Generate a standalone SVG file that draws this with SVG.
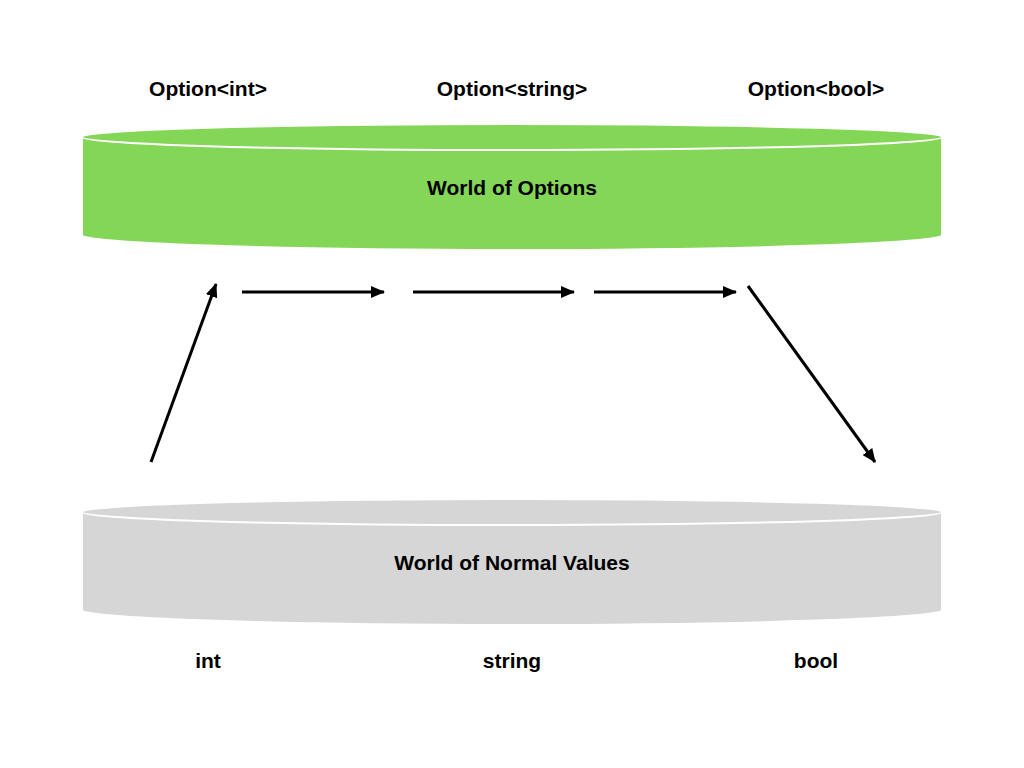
<svg xmlns="http://www.w3.org/2000/svg" width="1024" height="768" viewBox="0 0 1024 768">
<defs>
<style>
text{font-family:"Liberation Sans",Arial,sans-serif;font-weight:bold;font-size:21px;fill:#000;text-anchor:middle}
.conn line{stroke:#000;stroke-width:3;fill:none}
.cyl{stroke:#fff;stroke-width:2}
</style>
<marker id="ah" viewBox="0 0 14 12" refX="13" refY="6" markerWidth="14" markerHeight="12" markerUnits="userSpaceOnUse" orient="auto">
<path d="M0,0 L14,6 L0,12 Z" fill="#000"/>
</marker>
</defs>
<rect width="1024" height="768" fill="#fff"/>
<g id="options-world">
<path class="cyl" fill="#84d656" d="M82,137 L82,235 A430,15 0 0 0 942,235 L942,137 Z"/>
<ellipse class="cyl" fill="#84d656" cx="512" cy="137" rx="430" ry="13"/>
<text x="512" y="195">World of Options</text>
</g>
<g id="normal-world">
<path class="cyl" fill="#d6d6d6" d="M82,512 L82,610 A430,15 0 0 0 942,610 L942,512 Z"/>
<ellipse class="cyl" fill="#d6d6d6" cx="512" cy="512" rx="430" ry="13"/>
<text x="512" y="570">World of Normal Values</text>
</g>
<g id="labels">
<text x="208" y="96">Option&lt;int&gt;</text>
<text x="512" y="96">Option&lt;string&gt;</text>
<text x="816" y="96">Option&lt;bool&gt;</text>
<text x="208" y="668">int</text>
<text x="512" y="668">string</text>
<text x="816" y="668">bool</text>
</g>
<g class="conn" id="connectors">
<line x1="151" y1="462" x2="216" y2="284" marker-end="url(#ah)"/>
<line x1="242" y1="292" x2="384" y2="292" marker-end="url(#ah)"/>
<line x1="413" y1="292" x2="574" y2="292" marker-end="url(#ah)"/>
<line x1="594" y1="292" x2="736" y2="292" marker-end="url(#ah)"/>
<line x1="748" y1="286" x2="875" y2="462" marker-end="url(#ah)"/>
</g>
</svg>
